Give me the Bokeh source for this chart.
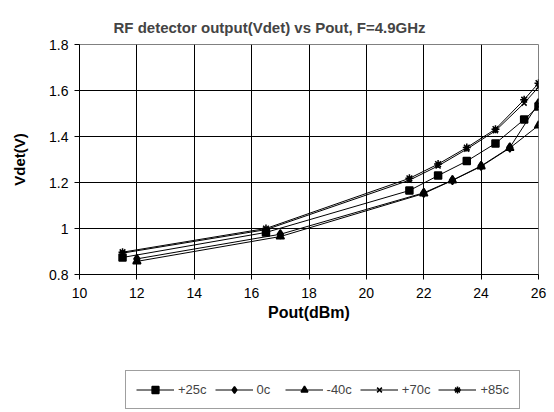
from bokeh.plotting import figure
from bokeh.layouts import column
from bokeh.models import Range1d, FixedTicker, Legend, LegendItem
from bokeh.embed import file_html
from bokeh.resources import INLINE

x_a = [11.5, 16.5, 21.5, 22.5, 23.5, 24.5, 25.5, 26]
x_b = [12, 17, 22, 23, 24, 25, 26]
v_p25 = [0.874, 0.983, 1.165, 1.23, 1.293, 1.37, 1.474, 1.53]
v_0 = [0.868, 0.975, 1.155, 1.21, 1.272, 1.352, 1.545]
v_m40 = [0.857, 0.965, 1.152, 1.209, 1.27, 1.35, 1.448]
v_p70 = [0.893, 0.995, 1.21, 1.272, 1.345, 1.425, 1.545, 1.615]
v_p85 = [0.897, 1.0, 1.218, 1.28, 1.352, 1.432, 1.56, 1.632]
x_ticks = [10, 12, 14, 16, 18, 20, 22, 24, 26]
y_ticks = [0.8, 1.0, 1.2, 1.4, 1.6, 1.8]
y_tick_labels = {0.8: "0.8", 1.0: "1", 1.2: "1.2", 1.4: "1.4", 1.6: "1.6", 1.8: "1.8"}

FONT = "Liberation Sans"

p = figure(width=554, height=340, output_backend="svg", toolbar_location=None,
           x_range=Range1d(10, 26), y_range=Range1d(0.8, 1.8),
           min_border_left=79, min_border_right=16, min_border_top=44, min_border_bottom=66)

p.title.text = "RF detector output(Vdet) vs Pout, F=4.9GHz"
p.title.text_font = FONT
p.title.text_font_size = "15px"
p.title.text_font_style = "bold"
p.title.align = "left"
p.title.offset = 34
p.title.standoff = 18

p.outline_line_color = "#808080"
p.background_fill_color = "white"
p.border_fill_color = "white"

for ax in (p.xaxis[0], p.yaxis[0]):
    ax.axis_line_color = "black"
    ax.major_tick_line_color = "black"
    ax.major_tick_out = 5
    ax.major_tick_in = 0
    ax.minor_tick_line_color = None
    ax.major_label_text_font = FONT
    ax.major_label_text_font_size = "14px"
    ax.major_label_text_color = "black"
    ax.axis_label_text_font = FONT
    ax.axis_label_text_font_style = "bold"
    ax.axis_label_text_color = "black"

p.xaxis.axis_label_text_font_size = "16px"
p.yaxis.axis_label_text_font_size = "15px"
p.xaxis.ticker = FixedTicker(ticks=x_ticks)
p.yaxis.ticker = FixedTicker(ticks=y_ticks)
p.yaxis.major_label_overrides = y_tick_labels
p.xaxis.axis_label = "Pout(dBm)"
p.yaxis.axis_label = "Vdet(V)"
p.xaxis.major_label_standoff = 8
p.xaxis.axis_label_standoff = 3
p.yaxis.major_label_standoff = 6
p.yaxis.axis_label_standoff = 18

p.xgrid.ticker = FixedTicker(ticks=x_ticks)
p.ygrid.ticker = FixedTicker(ticks=y_ticks)
p.grid.grid_line_color = "black"
p.grid.grid_line_width = 1

series = [
    ("+25c", x_a, v_p25, "square", 7),
    ("0c", x_b, v_0, "diamond", 9),
    ("-40c", x_b, v_m40, "triangle", 8),
    ("+70c", x_a, v_p70, "x", 7),
    ("+85c", x_a, v_p85, "asterisk", 8),
]

# legend panel below the chart (its frame is aligned with the chart's frame)
q = figure(width=554, height=72, output_backend="svg", toolbar_location=None,
           x_range=Range1d(0, 1), y_range=Range1d(0, 1),
           x_axis_type=None, y_axis_type=None,
           min_border_left=79, min_border_right=16, min_border_top=0, min_border_bottom=0)
q.grid.visible = False
q.outline_line_color = None
q.background_fill_color = "white"
q.border_fill_color = "white"

items = []
for name, xs, ys, marker, size in series:
    p.line(xs, ys, line_color="black", line_width=1)
    p.scatter(xs, ys, marker=marker, size=size, fill_color="black",
              line_color="black", line_width=1.5)
    lq = q.line(x=[5, 6], y=[5, 6], line_color="black", line_width=1)
    sq = q.scatter(x=[5], y=[5], marker=marker, size=size, fill_color="black",
                   line_color="black", line_width=1.5)
    items.append(LegendItem(label=name, renderers=[lq, sq]))

legend = Legend(items=items, orientation="horizontal", location=(46, 3))
legend.label_text_font = FONT
legend.label_text_font_size = "13px"
legend.label_standoff = 4
legend.glyph_width = 38
legend.glyph_height = 17
legend.spacing = 8
legend.padding = 10
legend.margin = 0
legend.border_line_color = "#404040"
legend.border_line_width = 1
legend.background_fill_color = "white"
q.add_layout(legend, "center")

layout = column(p, q, spacing=0)
open("out.html", "w").write(file_html(layout, INLINE))
